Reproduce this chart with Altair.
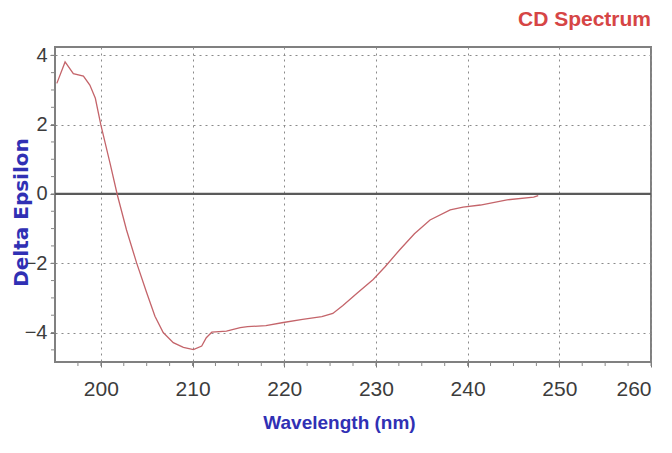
import altair as alt
import pandas as pd

wavelength = [195.2, 196.1, 197.0, 198.1, 198.8, 199.4, 200.0, 201.0, 201.8, 202.8,
              203.9, 205.0, 205.9, 206.8, 207.9, 209.0, 210.1, 211.0, 211.5, 212.1,
              213.7, 215.2, 216.0, 218.0, 219.9, 222.0, 224.1, 225.3, 226.4, 228.0,
              229.7, 231.0, 232.6, 234.2, 235.9, 238.1, 239.5, 241.4, 244.3, 247.2, 247.7]
delta_eps = [3.19, 3.81, 3.47, 3.40, 3.14, 2.76, 1.99, 0.89, -0.03, -1.04,
             -1.99, -2.85, -3.53, -4.00, -4.29, -4.43, -4.49, -4.39, -4.15, -3.99,
             -3.96, -3.86, -3.83, -3.80, -3.71, -3.62, -3.54, -3.45, -3.22, -2.85,
             -2.47, -2.10, -1.61, -1.15, -0.75, -0.46, -0.38, -0.32, -0.17, -0.09, -0.05]

x_ticks = [200, 210, 220, 230, 240, 250, 260]
y_ticks = [-4, -2, 0, 2, 4]
x_minor = [197.5 + 2.5 * i for i in range(26)]
y_minor = [-4.5 + 0.5 * i for i in range(18)]

X_DOMAIN = [195, 260]
Y_DOMAIN = [-4.85, 4.24]
W, H = 596, 315

df = pd.DataFrame({"wl": wavelength, "de": delta_eps})
xs = alt.Scale(domain=X_DOMAIN, nice=False, zero=False)
ys = alt.Scale(domain=Y_DOMAIN, nice=False, zero=False)

x_axis = alt.Axis(values=x_ticks, title="Wavelength (nm)", domain=False,
                  grid=True, gridDash=[2, 4], gridColor="#8a8a8a", gridWidth=1,
                  tickColor="#777", tickSize=5, tickWidth=1,
                  labelFont="Liberation Sans", labelFontSize=21,
                  labelColor="#3c3c3c", labelBaseline="middle", labelPadding=22,
                  titleFont="Liberation Sans", titleFontWeight="bold",
                  titleFontSize=19, titleColor="#3030b4",
                  titleX=284, titleY=60, titleBaseline="middle", titleAlign="center")
y_axis = alt.Axis(values=y_ticks, title="Delta Epsilon", domain=False,
                  grid=True, gridDash=[2, 4], gridColor="#8a8a8a", gridWidth=1,
                  tickColor="#777", tickSize=5, tickWidth=1,
                  labelFont="Liberation Sans", labelFontSize=20,
                  labelColor="#3c3c3c", labelPadding=3,
                  titleFont="DejaVu Sans", titleFontWeight="bold",
                  titleFontSize=20, titleColor="#3030b4", titleAngle=-90,
                  titleX=-34, titleY=165, titleBaseline="middle", titleAlign="center")

line = alt.Chart(df).mark_line(color="#c4646a", strokeWidth=1.3).encode(
    x=alt.X("wl:Q", scale=xs, axis=x_axis),
    y=alt.Y("de:Q", scale=ys, axis=y_axis),
)

zero = alt.Chart(pd.DataFrame({"z": [0]})).mark_rule(color="#5a5a5a", strokeWidth=2.2).encode(
    y=alt.Y("z:Q", scale=ys)
)

xminor = alt.Chart(pd.DataFrame({"m": x_minor})).mark_rule(color="#888", strokeWidth=1).encode(
    x=alt.X("m:Q", scale=xs), y=alt.value(H), y2=alt.value(H + 4)
)
yminor = alt.Chart(pd.DataFrame({"m": y_minor})).mark_rule(color="#888", strokeWidth=1).encode(
    y=alt.Y("m:Q", scale=ys), x=alt.value(-4), x2=alt.value(0)
)

chart = alt.layer(zero, line, xminor, yminor).properties(
    width=W, height=H,
    title=alt.TitleParams("CD Spectrum", anchor="end", frame="group", orient="top",
                          font="Liberation Sans", fontWeight="bold", fontSize=21,
                          color="#d64545", offset=15),
    autosize=alt.AutoSizeParams(type="none"),
    padding={"left": 47, "top": 39, "right": 13, "bottom": 75},
).configure_view(stroke="#808080", strokeWidth=2)

chart.save("out.html", embed_options={"renderer": "svg", "actions": False})
